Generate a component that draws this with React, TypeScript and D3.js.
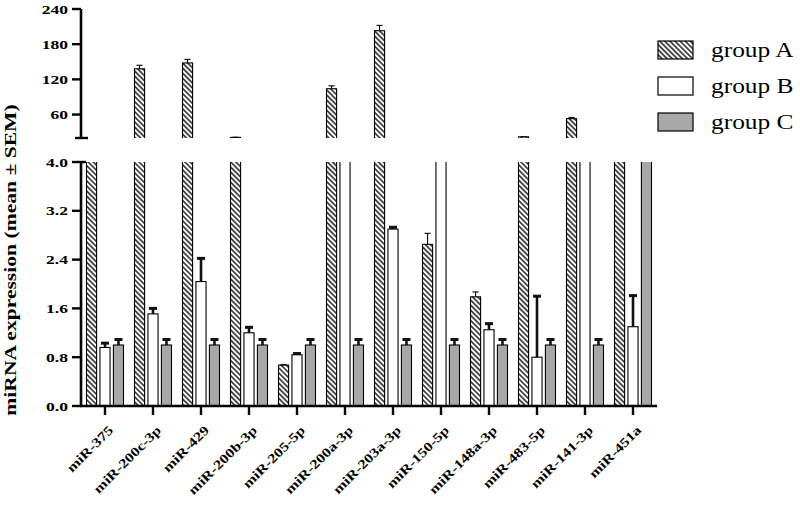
import React from "react";
import * as d3 from "d3";

const categories = ["miR-375", "miR-200c-3p", "miR-429", "miR-200b-3p", "miR-205-5p", "miR-200a-3p", "miR-203a-3p", "miR-150-5p", "miR-148a-3p", "miR-483-5p", "miR-141-3p", "miR-451a"];
const groupA = [12, 138, 148, 21, 0.67, 104, 203, 2.65, 1.79, 22, 53, 12];
const groupAErr = [0.5, 6, 6, 0.3, 0.01, 5, 9, 0.18, 0.08, 0.3, 2, 0.5];
const groupB = [0.96, 1.51, 2.04, 1.2, 0.84, 10, 2.9, 10, 1.25, 0.8, 10, 1.3];
const groupBErr = [0.07, 0.09, 0.38, 0.09, 0.02, 0.5, 0.03, 0.5, 0.1, 1.0, 0.5, 0.51];
const groupC = [1, 1, 1, 1, 1, 1, 1, 1, 1, 1, 1, 12];
const groupCErr = [0.09, 0.09, 0.09, 0.09, 0.09, 0.09, 0.09, 0.09, 0.09, 0.09, 0.09, 0.5];
const seriesNames = ["group A", "group B", "group C"];
const lowTicks = [0, 0.8, 1.6, 2.4, 3.2, 4.0];
const highTicks = [60, 120, 180, 240];
const yTitle = "miRNA expression (mean \u00b1 SEM)";

const FONT = "'Liberation Serif', 'Times New Roman', serif";

export default function App() {
  const W = 800, H = 505;
  const x0 = 81, x1 = 657;
  const lowTop = 162, lowBot = 406;
  const highTop = 9, highBot = 138;

  const xBand = d3.scaleBand<string>().domain(categories).range([x0, x1]).padding(0);
  const inner = d3.scaleBand<string>().domain(["A", "B", "C"]).range([5.5, 42.5]).paddingInner(0.25).paddingOuter(0);
  const yLow = d3.scaleLinear().domain([0, 4]).range([lowBot, lowTop]);
  const yHigh = d3.scaleLinear().domain([20, 240]).range([highBot, highTop]);

  const series = [
    { key: "A", vals: groupA, errs: groupAErr, fill: "url(#hatch)", thin: true },
    { key: "B", vals: groupB, errs: groupBErr, fill: "#ffffff", thin: false },
    { key: "C", vals: groupC, errs: groupCErr, fill: "#a8a8a8", thin: false },
  ];
  const bw = inner.bandwidth();

  const bars: any[] = [];
  const errs: any[] = [];
  series.forEach((s) => {
    categories.forEach((c, i) => {
      const v = s.vals[i];
      const e = s.errs[i];
      const bx = (xBand(c) as number) + (inner(s.key) as number);
      const cx = bx + bw / 2;
      const yt = yLow(Math.min(v, 4.5));
      bars.push(
        <rect key={`l-${s.key}-${i}`} x={bx} y={yt} width={bw} height={lowBot - yt} fill={s.fill} stroke="#000" strokeWidth={1.1} clipPath="url(#clipLow)" />
      );
      if (v < 4) {
        const ye = yLow(v + e);
        const capW = s.thin ? 6 : 8;
        errs.push(
          <g key={`le-${s.key}-${i}`} stroke="#111" clipPath="url(#clipLow)">
            <line x1={cx} x2={cx} y1={yLow(v)} y2={ye} strokeWidth={s.thin ? 1.2 : 2.6} />
            <line x1={cx - capW / 2} x2={cx + capW / 2} y1={ye} y2={ye} strokeWidth={s.thin ? 1.2 : 3} />
          </g>
        );
      }
      if (v > 20) {
        const yt2 = yHigh(v);
        bars.push(
          <rect key={`h-${s.key}-${i}`} x={bx} y={yt2} width={bw} height={highBot + 5 - yt2} fill={s.fill} stroke="#000" strokeWidth={1.1} clipPath="url(#clipHigh)" />
        );
        const ye2 = yHigh(v + e);
        errs.push(
          <g key={`he-${s.key}-${i}`} stroke="#111">
            <line x1={cx} x2={cx} y1={yt2} y2={ye2} strokeWidth={1.2} />
            <line x1={cx - 3} x2={cx + 3} y1={ye2} y2={ye2} strokeWidth={1.2} />
          </g>
        );
      }
    });
  });

  const fmt = d3.format(".1f");

  return (
    <svg width={W} height={H} style={{ position: "absolute", left: 0, top: 0, background: "#fff" }} fontFamily={FONT}>
      <defs>
        <pattern id="hatch" patternUnits="userSpaceOnUse" width={3.6} height={3.6} patternTransform="rotate(-45)">
          <rect width={3.6} height={3.6} fill="#fff" />
          <line x1={1.8} y1={0} x2={1.8} y2={3.6} stroke="#111" strokeWidth={1.4} />
        </pattern>
        <clipPath id="clipLow">
          <rect x={0} y={lowTop} width={W} height={lowBot - lowTop + 2} />
        </clipPath>
        <clipPath id="clipHigh">
          <rect x={0} y={0} width={W} height={highBot} />
        </clipPath>
      </defs>
      <rect width={W} height={H} fill="#fff" />

      {bars}
      {errs}

      <line x1={x0} x2={x0} y1={lowTop} y2={lowBot + 1} stroke="#000" strokeWidth={2.6} />
      {lowTicks.map((t) => (
        <g key={`lt-${t}`}>
          <line x1={72} x2={t === 4 ? 86 : x0} y1={yLow(t)} y2={yLow(t)} stroke="#000" strokeWidth={2.4} />
          <text transform={`translate(68,${yLow(t)}) scale(1.35,1)`} dy="0.36em" textAnchor="end" fontSize={13} fontWeight="bold">{fmt(t)}</text>
        </g>
      ))}

      <line x1={x0} x2={x0} y1={highTop} y2={highBot} stroke="#000" strokeWidth={2.6} />
      <line x1={75} x2={88} y1={highBot} y2={highBot} stroke="#000" strokeWidth={2.4} />
      {highTicks.map((t) => (
        <g key={`ht-${t}`}>
          <line x1={72} x2={x0} y1={yHigh(t)} y2={yHigh(t)} stroke="#000" strokeWidth={2.4} />
          <text transform={`translate(68,${yHigh(t)}) scale(1.35,1)`} dy="0.36em" textAnchor="end" fontSize={13} fontWeight="bold">{t}</text>
        </g>
      ))}

      <line x1={x0 - 1} x2={x1} y1={lowBot} y2={lowBot} stroke="#000" strokeWidth={2.6} />
      {categories.map((c) => {
        const cx = (xBand(c) as number) + xBand.bandwidth() / 2;
        return (
          <g key={`xt-${c}`}>
            <line x1={cx} x2={cx} y1={lowBot} y2={415} stroke="#000" strokeWidth={2.4} />
            <text transform={`translate(${cx + 9},${431}) rotate(-45) scale(1.25,1)`} textAnchor="end" fontSize={13} fontWeight="bold">{c}</text>
          </g>
        );
      })}

      <text transform={`translate(16,260) rotate(-90) scale(1.35,1)`} textAnchor="middle" fontSize={16} fontWeight="bold">{yTitle}</text>

      {seriesNames.map((n, i) => (
        <g key={`lg-${n}`}>
          <rect x={658} y={41 + i * 36} width={35} height={18} fill={series[i].fill} stroke="#000" strokeWidth={1.2} />
          <text transform={`translate(711,${57 + i * 36}) scale(1.27,1)`} fontSize={20}>{n}</text>
        </g>
      ))}
    </svg>
  );
}
